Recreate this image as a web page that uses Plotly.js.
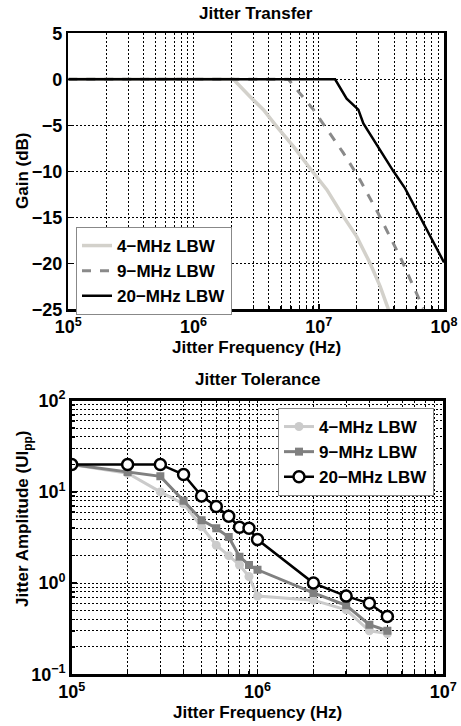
<!DOCTYPE html>
<html>
<head>
<meta charset="utf-8">
<script src="https://cdn.plot.ly/plotly-3.0.1.min.js"></script>
<style>html,body{margin:0;padding:0;background:#fff;}#chart{width:461px;height:726px;}</style>
</head>
<body>
<div id="chart"></div>
<script>
// ---- Jitter Transfer data ----
const tfFreq4 = [1e5, 2.08e6, 2.83e6, 3.61e6, 4.62e6, 6.27e6, 8.53e6, 1.16e7, 1.57e7, 2.01e7, 2.57e7, 3.09e7, 3.6e7];
const tfGain4 = [0, 0, -1.9, -3.3, -5.15, -7.3, -9.7, -12.0, -14.9, -17.1, -20.0, -22.5, -25];
const tfFreq9 = [1e5, 5.71e6, 9.06e6, 1.12e7, 1.57e7, 2.07e7, 2.99e7, 4.46e7, 6.84e7];
const tfGain9 = [0, 0, -3.3, -5.15, -8.0, -10.6, -14.6, -19.3, -24.9];
const tfFreq20 = [1e5, 1.35e7, 1.67e7, 2.07e7, 2.27e7, 3.95e7, 4.89e7, 1e8];
const tfGain20 = [0, 0, -2.1, -3.3, -4.8, -10.0, -11.85, -19.9];

// ---- Jitter Tolerance data ----
const jtFreq = [1e5, 2e5, 3e5, 4e5, 5e5, 6e5, 7e5, 8e5, 9e5, 1e6, 2e6, 3e6, 4e6, 5e6];
const jt4 = [20, 16, 10, 7.4, 4.15, 2.6, 2.0, 1.58, 1.18, 0.72, 0.65, 0.51, 0.30, 0.28];
const jt9 = [20, 16.5, 14.8, 8.0, 4.9, 4.0, 3.2, 1.95, 1.58, 1.4, 0.78, 0.57, 0.35, 0.30];
const jt20 = [20, 20, 20, 15.5, 9.0, 6.9, 5.4, 4.1, 4.0, 3.0, 1.0, 0.72, 0.6, 0.43];

const seriesNames = ['4\u2212MHz LBW', '9\u2212MHz LBW', '20\u2212MHz LBW'];

// tick labels
const tfXTicks = [1e5, 1e6, 1e7, 1e8];
const tfXText = ['10<sup>5</sup>', '10<sup>6</sup>', '10<sup>7</sup>', '10<sup>8</sup>'];
const tfYTicks = [-25, -20, -15, -10, -5, 0, 5];
const jtXTicks = [1e5, 1e6, 1e7];
const jtXText = ['10<sup>5</sup>', '10<sup>6</sup>', '10<sup>7</sup>'];
const jtYTicks = [0.1, 1, 10, 100];
const jtYText = ['10<sup>\u22121</sup>', '10<sup>0</sup>', '10<sup>1</sup>', '10<sup>2</sup>'];

function minorVals(lo, hi) {
  const v = [];
  for (let e = lo; e < hi; e++) for (let m = 2; m <= 9; m++) v.push(m * Math.pow(10, e));
  return v;
}

const FONT = {family: 'Liberation Sans, Arial, sans-serif', size: 17, color: '#000', weight: 'bold'};
const TICKFONT = {family: 'Liberation Sans, Arial, sans-serif', size: 18, color: '#000', weight: 'bold'};
const DOT = '2px,2px';
const W = 461, H = 726;
const px = x => x / W, py = y => 1 - y / H;

const traces = [
  {x: tfFreq4, y: tfGain4, xaxis: 'x', yaxis: 'y', mode: 'lines', name: seriesNames[0], legend: 'legend',
   line: {color: '#d3d1cb', width: 3.5}},
  {x: tfFreq9, y: tfGain9, xaxis: 'x', yaxis: 'y', mode: 'lines', name: seriesNames[1], legend: 'legend',
   line: {color: '#8a8a8a', width: 3, dash: 'dash'}},
  {x: tfFreq20, y: tfGain20, xaxis: 'x', yaxis: 'y', mode: 'lines', name: seriesNames[2], legend: 'legend',
   line: {color: '#000', width: 2.5}},
  {x: jtFreq, y: jt4, xaxis: 'x2', yaxis: 'y2', mode: 'lines+markers', name: seriesNames[0], legend: 'legend2',
   line: {color: '#cbcbcb', width: 3}, marker: {symbol: 'circle', size: 9, color: '#cbcbcb'}},
  {x: jtFreq, y: jt9, xaxis: 'x2', yaxis: 'y2', mode: 'lines+markers', name: seriesNames[1], legend: 'legend2',
   line: {color: '#808080', width: 3}, marker: {symbol: 'square', size: 8, color: '#808080'}},
  {x: jtFreq, y: jt20, xaxis: 'x2', yaxis: 'y2', mode: 'lines+markers', name: seriesNames[2], legend: 'legend2',
   line: {color: '#000', width: 2.5}, marker: {symbol: 'circle', size: 11, color: '#fff', line: {color: '#000', width: 2.5}}}
];

const axBase = {
  showline: true, mirror: true, linecolor: '#000', linewidth: 2.5,
  ticks: 'inside', ticklen: 5, tickwidth: 1.5, tickcolor: '#000',
  showgrid: true, gridcolor: '#000', gridwidth: 1, griddash: DOT,
  zeroline: false, tickfont: TICKFONT, fixedrange: true
};
const minorBase = {tickmode: 'array', showgrid: true, gridcolor: '#000', griddash: DOT, gridwidth: 1, ticks: 'inside', ticklen: 3, tickcolor: '#000'};

const layout = {
  width: W, height: H,
  margin: {l: 0, r: 0, t: 0, b: 0},
  paper_bgcolor: '#fff', plot_bgcolor: '#fff',
  font: FONT,
  xaxis: Object.assign({}, axBase, {
    type: 'log', range: [5, 8], domain: [px(68.3), px(444)], anchor: 'y',
    tickmode: 'array', tickvals: tfXTicks, ticktext: tfXText,
    minor: Object.assign({}, minorBase, {tickvals: minorVals(5, 8)})
  }),
  yaxis: Object.assign({}, axBase, {
    range: [-25, 5], domain: [py(309.3), py(33.3)], anchor: 'x',
    tickmode: 'array', tickvals: tfYTicks
  }),
  xaxis2: Object.assign({}, axBase, {
    type: 'log', range: [5, 7], domain: [px(71.7), px(443.3)], anchor: 'y2',
    tickmode: 'array', tickvals: jtXTicks, ticktext: jtXText,
    minor: Object.assign({}, minorBase, {tickvals: minorVals(5, 7)})
  }),
  yaxis2: Object.assign({}, axBase, {
    type: 'log', range: [-1, 2], domain: [py(674.3), py(400.7)], anchor: 'x2',
    tickmode: 'array', tickvals: jtYTicks, ticktext: jtYText,
    minor: Object.assign({}, minorBase, {tickvals: minorVals(-1, 2)})
  }),
  legend: {x: px(76), y: py(227), xanchor: 'left', yanchor: 'top', bgcolor: '#fff', bordercolor: '#888', borderwidth: 1, font: FONT, tracegroupgap: 0},
  legend2: {x: px(278), y: py(408), xanchor: 'left', yanchor: 'top', bgcolor: '#fff', bordercolor: '#888', borderwidth: 1, font: FONT, tracegroupgap: 0},
  showlegend: true,
  annotations: [
    {text: 'Jitter Transfer', x: px(256), y: py(13), xref: 'paper', yref: 'paper', showarrow: false, xanchor: 'center', yanchor: 'middle', font: FONT},
    {text: 'Jitter Frequency (Hz)', x: px(256), y: py(347), xref: 'paper', yref: 'paper', showarrow: false, xanchor: 'center', yanchor: 'middle', font: FONT},
    {text: 'Gain (dB)', x: px(22), y: py(171), xref: 'paper', yref: 'paper', showarrow: false, xanchor: 'center', yanchor: 'middle', textangle: -90, font: FONT},
    {text: 'Jitter Tolerance', x: px(257.5), y: py(380), xref: 'paper', yref: 'paper', showarrow: false, xanchor: 'center', yanchor: 'middle', font: FONT},
    {text: 'Jitter Frequency (Hz)', x: px(257.5), y: py(712), xref: 'paper', yref: 'paper', showarrow: false, xanchor: 'center', yanchor: 'middle', font: FONT},
    {text: 'Jitter Amplitude (UI<sub>pp</sub>)', x: px(24), y: py(519), xref: 'paper', yref: 'paper', showarrow: false, xanchor: 'center', yanchor: 'middle', textangle: -90, font: FONT}
  ]
};

Plotly.newPlot('chart', traces, layout, {displayModeBar: false, staticPlot: true});
</script>
</body>
</html>
